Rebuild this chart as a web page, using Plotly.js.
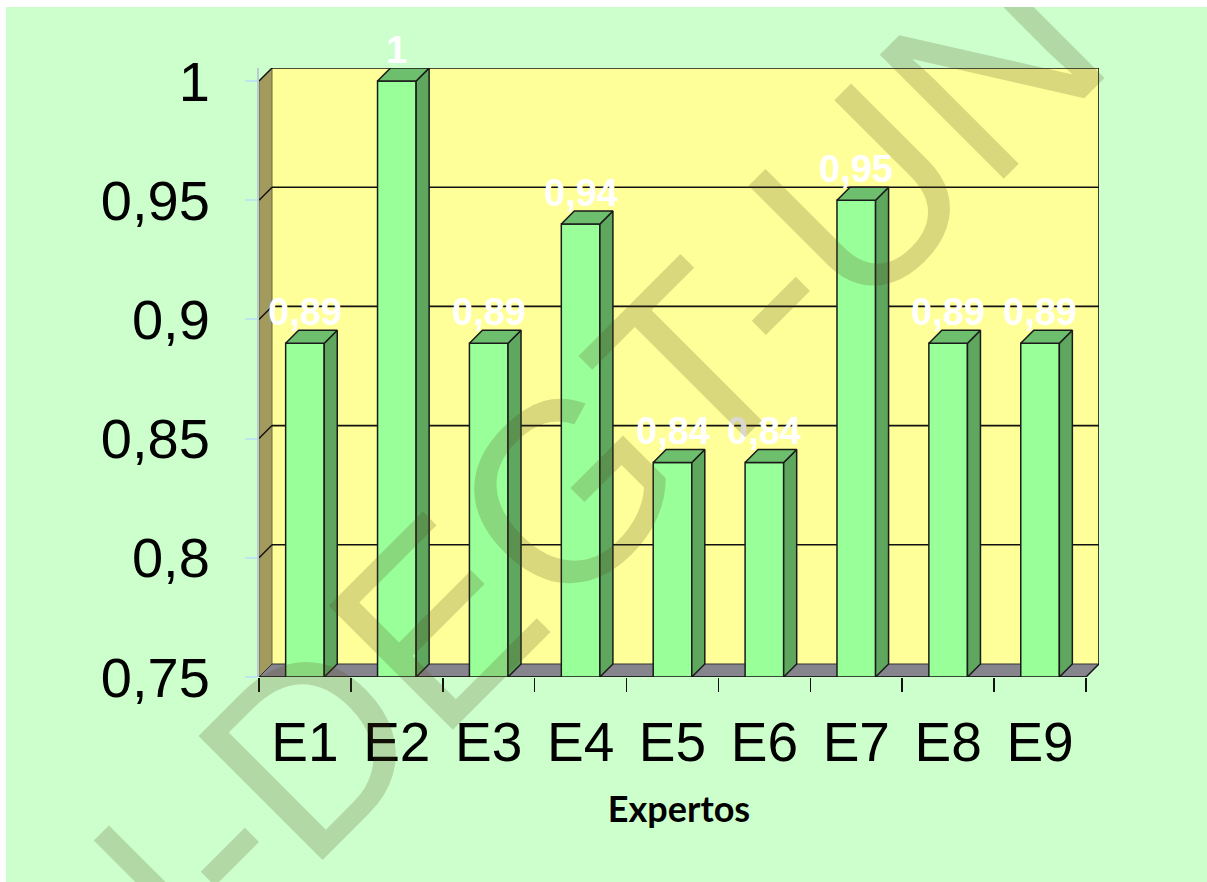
<!DOCTYPE html>
<html>
<head>
<meta charset="utf-8">
<script src="https://cdn.plot.ly/plotly-3.0.1.min.js"></script>
<style>
  html, body { margin: 0; padding: 0; background: #ffffff; width: 1207px; height: 882px; overflow: hidden; }
  #chart { position: absolute; left: 6px; top: 7px; width: 1201px; height: 875px; }
</style>
</head>
<body>
<div id="chart"></div>
<script>
// ---- data ----
const categories = ['E1', 'E2', 'E3', 'E4', 'E5', 'E6', 'E7', 'E8', 'E9'];
const values = [0.89, 1, 0.89, 0.94, 0.84, 0.84, 0.95, 0.89, 0.89];
const valueLabels = ['0,89', '1', '0,89', '0,94', '0,84', '0,84', '0,95', '0,89', '0,89'];
const yTickVals = [0.75, 0.8, 0.85, 0.9, 0.95, 1];
const yTickText = ['0,75', '0,8', '0,85', '0,9', '0,95', '1'];
const xAxisTitle = 'Expertos';
const watermarkText = 'UN-DEGT-UN';

// ---- 3D look parameters ----
const BASE = yTickVals[0];
const TOP = yTickVals[yTickVals.length - 1];
const DX = 0.1415;     // depth in category units
const DY = 0.00545;    // depth in value units
const W = 0.42;        // bar width
const n = categories.length;
const xs = categories.map((c, i) => i);
const boundaries = [];
for (let i = 0; i <= n; i++) boundaries.push(i - 0.5);

// side and top faces of each bar, from the values
const sideX = [], sideY = [], topX = [], topY = [];
values.forEach((v, i) => {
  const r = i + W / 2, l = i - W / 2;
  sideX.push(r, r + DX, r + DX, r, r, null);
  sideY.push(BASE, BASE + DY, v + DY, v, BASE, null);
  topX.push(l, l + DX, r + DX, r, l, null);
  topY.push(v, v + DY, v + DY, v, v, null);
});

const traces = [
  {
    type: 'bar', x: xs, y: values, width: W,
    marker: { color: '#99FF99', line: { color: '#1a1a1a', width: 1.5 } },
    hoverinfo: 'skip', showlegend: false
  },
  {
    type: 'scatter', mode: 'lines', x: sideX, y: sideY, fill: 'toself',
    fillcolor: '#5FA75F', line: { color: '#1a1a1a', width: 1.5 },
    hoverinfo: 'skip', showlegend: false
  },
  {
    type: 'scatter', mode: 'lines', x: topX, y: topY, fill: 'toself',
    fillcolor: '#6DBE6D', line: { color: '#1a1a1a', width: 1.5 },
    hoverinfo: 'skip', showlegend: false
  }
];

// ---- walls, floor and grid (shapes) ----
const xl = -0.5, xr = n - 0.5;
const shapes = [];
shapes.push({ type: 'rect', xref: 'x', yref: 'y', layer: 'below',
  x0: xl + DX, x1: xr + DX, y0: BASE + DY, y1: TOP + DY,
  fillcolor: '#FFFF99', line: { width: 0 } });
shapes.push({ type: 'path', xref: 'x', yref: 'y', layer: 'below',
  path: `M ${xl},${BASE} L ${xl + DX},${BASE + DY} L ${xl + DX},${TOP + DY} L ${xl},${TOP} Z`,
  fillcolor: '#A39B5E', line: { color: '#6b6640', width: 1 } });
shapes.push({ type: 'path', xref: 'x', yref: 'y', layer: 'below',
  path: `M ${xl},${BASE} L ${xl + DX},${BASE + DY} L ${xr + DX},${BASE + DY} L ${xr},${BASE} Z`,
  fillcolor: '#86858E', line: { color: '#333333', width: 1 } });
yTickVals.forEach(v => {
  if (v > BASE) {
    shapes.push({ type: 'line', xref: 'x', yref: 'y', layer: 'below',
      x0: xl + DX, x1: xr + DX, y0: v + DY, y1: v + DY,
      line: { color: '#111111', width: 1.6 } });
    shapes.push({ type: 'line', xref: 'x', yref: 'y', layer: 'below',
      x0: xl, x1: xl + DX, y0: v, y1: v + DY,
      line: { color: '#111111', width: 1.4 } });
  }
});
shapes.push({ type: 'line', xref: 'x', yref: 'y', layer: 'below',
  x0: xr + DX, x1: xr + DX, y0: BASE + DY, y1: TOP + DY,
  line: { color: '#111111', width: 1.6 } });
shapes.push({ type: 'line', xref: 'x', yref: 'y', layer: 'above',
  x0: xl, x1: xr, y0: BASE, y1: BASE,
  line: { color: '#111111', width: 1.6 } });
shapes.push({ type: 'line', xref: 'x', yref: 'y', layer: 'above',
  x0: xr, x1: xr + DX, y0: BASE, y1: BASE + DY,
  line: { color: '#111111', width: 1.4 } });

// ---- annotations: value labels + watermark ----
const annotations = values.map((v, i) => ({
  x: i, y: v, xref: 'x', yref: 'y', text: valueLabels[i],
  showarrow: false, xanchor: 'center', yanchor: 'bottom', yshift: 8,
  font: { family: 'Liberation Sans, Arial, sans-serif', size: 38, color: '#FFFFFF', weight: 'bold' }
}));
annotations.push({
  xref: 'paper', yref: 'paper', x: 0.276, y: 0.182,
  xanchor: 'center', yanchor: 'middle', showarrow: false,
  text: watermarkText, textangle: -45,
  font: { family: 'Liberation Sans, Arial, sans-serif', size: 255, weight: 'normal', color: 'rgba(80,70,25,0.21)' }
});

const layout = {
  width: 1201, height: 875,
  margin: { l: 253, r: 108, t: 61, b: 205, pad: 0 },
  paper_bgcolor: '#CCFFCC',
  plot_bgcolor: '#CCFFCC',
  showlegend: false,
  bargap: 0,
  xaxis: {
    type: 'linear', range: [xl, xr + DX], fixedrange: true,
    tickvals: xs, ticktext: categories, ticks: '',
    minor: { tickvals: boundaries, ticks: 'outside', ticklen: 14, tickcolor: '#111111', tickwidth: 1.5, showgrid: false },
    showgrid: false, zeroline: false, showline: false,
    ticklabelstandoff: 28,
    tickfont: { family: 'Liberation Sans, Arial, sans-serif', size: 55, color: '#000000' },
    title: { text: xAxisTitle, standoff: 24,
      font: { family: 'Lato, Open Sans, sans-serif', size: 36, color: '#000000', weight: 'bold' } },
    automargin: false
  },
  yaxis: {
    type: 'linear', range: [BASE, TOP + DY], fixedrange: true,
    tickvals: yTickVals, ticktext: yTickText,
    ticks: 'outside', ticklen: 12, tickcolor: '#BEE6EE', tickwidth: 2,
    showline: true, linecolor: '#B9CCD6', linewidth: 2,
    showgrid: false, zeroline: false,
    ticklabelstandoff: 24,
    tickfont: { family: 'Liberation Sans Narrow, Arial Narrow, Liberation Sans, sans-serif', size: 56, color: '#000000' },
    automargin: false
  },
  shapes: shapes,
  annotations: annotations
};

Plotly.newPlot('chart', traces, layout, { displayModeBar: false, staticPlot: true });
</script>
</body>
</html>
